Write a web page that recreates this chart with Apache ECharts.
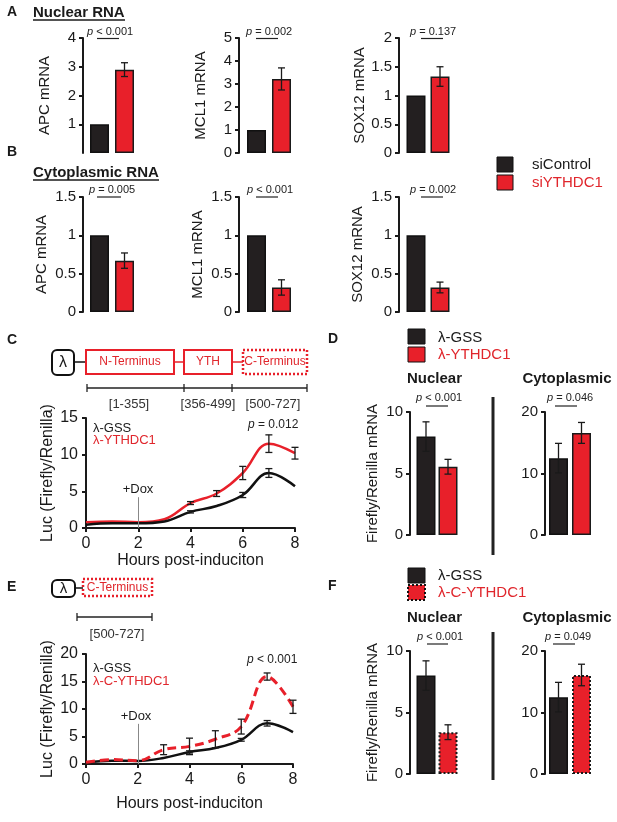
<!DOCTYPE html>
<html>
<head>
<meta charset="utf-8">
<script src="https://cdn.jsdelivr.net/npm/echarts@6/dist/echarts.min.js"></script>
<style>
  html, body { margin: 0; padding: 0; background: #fff; }
  #main { width: 617px; height: 822px; }
</style>
</head>
<body>
<div id="main"></div>
<script>
// groups in every bar panel
var barGroups = ['siControl', 'siYTHDC1'];

// A - nuclear RNA (relative mRNA), [siControl, siYTHDC1]
var nucApc = [1, 2.9],   nucApcErr = [0, 0.24];
var nucMcl1 = [1, 3.22], nucMcl1Err = [0, 0.48];
var nucSox12 = [1, 1.33], nucSox12Err = [0, 0.17];

// B - cytoplasmic RNA
var cytApc = [1, 0.67],   cytApcErr = [0, 0.1];
var cytMcl1 = [1, 0.32],  cytMcl1Err = [0, 0.1];
var cytSox12 = [1, 0.32], cytSox12Err = [0, 0.07];

// C - luciferase time course (hours post-induction)
var hours = [0, 1, 2, 3, 4, 5, 6, 7, 8];
var gssC = [0.45, 0.65, 0.65, 0.9, 2.2, 3.0, 4.5, 7.5, 5.7];
var ythC = [0.8, 0.9, 0.8, 1.2, 3.4, 4.7, 7.5, 11.5, 10.2];
var gssCErr = [[4, 0.15], [6, 0.35], [7, 0.6]];
var ythCErr = [[4, 0.2], [5, 0.4], [6, 0.9], [7, 1.2], [8, 0.8]];

// D - Firefly/Renilla mRNA, [λ-GSS, λ-YTHDC1]
var dNuc = [8.0, 5.55],  dNucErr = [1.2, 0.6];
var dCyt = [12.5, 16.6], dCytErr = [2.4, 1.7];

// E - time course with C-terminus only
var gssE = [0.3, 0.6, 0.55, 1.1, 2.2, 2.9, 4.4, 7.4, 5.8];
var cythE = [0.3, 0.8, 0.6, 2.6, 3.2, 4.5, 6.8, 15.9, 10.4];
var gssEErr = [[4, 0.2], [6, 0.25], [7, 0.5]];
var cythEErr = [[3, 0.9], [4, 1.5], [5, 1.55], [6, 1.35], [7, 0.65], [8, 1.2]];

// F - [λ-GSS, λ-C-YTHDC1]
var fNuc = [8.0, 3.4],  fNucErr = [1.2, 0.6];
var fCyt = [12.5, 16.1], fCytErr = [2.4, 1.75];

var FONT = 'Liberation Sans, Arial, sans-serif';
var BLACK = '#231f20';
var RED = '#e8202a';
var RED_TXT = '#e0262c';

var myChart = echarts.init(document.getElementById('main'));

var grids = [], xAxes = [], yAxes = [], series = [];

// error bar drawn through the axis scales
function errRender(params, api) {
    var x = api.value(0);
    var hi = api.coord([x, api.value(1)]);
    var lo = api.coord([x, api.value(2)]);
    var w = 3.5;
    var st = { stroke: '#1a1a1a', lineWidth: 1.3 };
    return {
        type: 'group',
        children: [
            { type: 'line', shape: { x1: hi[0], y1: hi[1], x2: lo[0], y2: lo[1] }, style: st },
            { type: 'line', shape: { x1: hi[0] - w, y1: hi[1], x2: hi[0] + w, y2: hi[1] }, style: st },
            { type: 'line', shape: { x1: lo[0] - w, y1: lo[1], x2: lo[0] + w, y2: lo[1] }, style: st }
        ]
    };
}

function axisStyle() {
    return {
        axisLine: { show: true, lineStyle: { color: '#1a1a1a', width: 2 } },
        axisTick: { show: true, length: 4, lineStyle: { color: '#1a1a1a', width: 2 } },
        splitLine: { show: false }
    };
}

function barPanel(box, yMax, yInt, offset, name, nameGap, vals, errs, dottedRed, hideZero) {
    var g = grids.length;
    grids.push({ left: box[0], top: box[1], width: box[2], height: box[3] });
    xAxes.push({
        gridIndex: g, type: 'category', data: barGroups,
        axisLine: { show: false }, axisTick: { show: false }, axisLabel: { show: false }
    });
    var ya = axisStyle();
    ya.gridIndex = g;
    ya.type = 'value';
    ya.min = 0; ya.max = yMax; ya.interval = yInt;
    ya.offset = offset;
    ya.name = name;
    ya.nameLocation = 'middle';
    ya.nameGap = nameGap;
    ya.nameTextStyle = { fontFamily: FONT, fontSize: 15, color: '#1a1a1a' };
    ya.axisLabel = { fontFamily: FONT, fontSize: 15, color: '#1a1a1a', margin: 7, showMinLabel: !hideZero };
    yAxes.push(ya);

    var redStyle = { color: RED, borderColor: '#1a1a1a', borderWidth: 1.5 };
    if (dottedRed) {
        redStyle = { color: RED, borderColor: '#1a1a1a', borderWidth: 2, borderType: [2, 2] };
    }
    series.push({
        type: 'bar', xAxisIndex: g, yAxisIndex: g, barWidth: 19, silent: true,
        data: [
            { value: vals[0], itemStyle: { color: BLACK, borderColor: '#111', borderWidth: 1.5 } },
            { value: vals[1], itemStyle: redStyle }
        ]
    });
    var ed = [];
    for (var i = 0; i < vals.length; i++) {
        if (errs[i] > 0) ed.push([i, vals[i] + errs[i], vals[i] - errs[i]]);
    }
    series.push({
        type: 'custom', xAxisIndex: g, yAxisIndex: g, z: 5, silent: true,
        renderItem: errRender, encode: { x: 0, y: [1, 2] }, data: ed
    });
}

function linePanel(box, yMax, xNameGap, lines, errSets) {
    var g = grids.length;
    grids.push({ left: box[0], top: box[1], width: box[2], height: box[3] });
    var xa = axisStyle();
    xa.gridIndex = g; xa.type = 'value'; xa.min = 0; xa.max = 8; xa.interval = 2;
    xa.axisLabel = { fontFamily: FONT, fontSize: 16, color: '#1a1a1a', margin: 8 };
    xa.name = 'Hours post-induciton';
    xa.nameLocation = 'middle';
    xa.nameGap = xNameGap;
    xa.nameTextStyle = { fontFamily: FONT, fontSize: 16, color: '#1a1a1a' };
    xAxes.push(xa);
    var ya = axisStyle();
    ya.gridIndex = g; ya.type = 'value'; ya.min = 0; ya.max = yMax; ya.interval = 5;
    ya.axisLabel = { fontFamily: FONT, fontSize: 16, color: '#1a1a1a', margin: 8 };
    ya.name = 'Luc (Firefly/Renilla)';
    ya.nameLocation = 'middle';
    ya.nameGap = 30;
    ya.nameTextStyle = { fontFamily: FONT, fontSize: 16, color: '#1a1a1a' };
    yAxes.push(ya);

    lines.forEach(function (ln) {
        var s = {
            type: 'line', xAxisIndex: g, yAxisIndex: g, smooth: 0.4, showSymbol: false, silent: true,
            data: hours.map(function (h, i) { return [h, ln.values[i]]; }),
            lineStyle: { color: ln.color, width: ln.width, type: ln.dash ? [9, 5] : 'solid' },
            z: ln.z
        };
        if (ln.dox) {
            s.markLine = {
                silent: true, symbol: 'none', label: { show: false },
                lineStyle: { color: '#888', width: 1, type: 'solid' },
                data: [[{ coord: [2, 0] }, { coord: [2, ln.dox] }]]
            };
        }
        series.push(s);
    });
    errSets.forEach(function (es) {
        series.push({
            type: 'custom', xAxisIndex: g, yAxisIndex: g, z: 6, silent: true,
            renderItem: errRender, encode: { x: 0, y: [1, 2] },
            data: es.err.map(function (e) {
                var v = es.values[hours.indexOf(e[0])];
                return [e[0], v + e[1], v - e[1]];
            })
        });
    });
}

// A
barPanel([87, 38, 50, 115], 4, 1, 4, 'APC mRNA', 31, nucApc, nucApcErr, false, true);
barPanel([244, 38, 50, 115], 5, 1, 5, 'MCL1 mRNA', 31, nucMcl1, nucMcl1Err, false, false);
barPanel([404, 38, 48, 115], 2, 0.5, 5, 'SOX12 mRNA', 27, nucSox12, nucSox12Err, false, false);
// B
barPanel([87, 197, 50, 115], 1.5, 0.5, 4, 'APC mRNA', 34, cytApc, cytApcErr, false, false);
barPanel([244, 197, 50, 115], 1.5, 0.5, 5, 'MCL1 mRNA', 34, cytMcl1, cytMcl1Err, false, false);
barPanel([404, 197, 48, 115], 1.5, 0.5, 5, 'SOX12 mRNA', 34, cytSox12, cytSox12Err, false, false);
// D
barPanel([415, 412, 44, 123], 10, 5, 5, 'Firefly/Renilla mRNA', 30, dNuc, dNucErr, false, false);
barPanel([547, 412, 46, 123], 20, 10, 2, '', 30, dCyt, dCytErr, false, false);
// F
barPanel([415, 651, 44, 123], 10, 5, 5, 'Firefly/Renilla mRNA', 30, fNuc, fNucErr, true, false);
barPanel([547, 651, 46, 123], 20, 10, 2, '', 30, fCyt, fCytErr, true, false);
// C
linePanel([86, 418, 209, 110], 15, 24,
    [{ values: gssC, color: '#111', width: 2.5, z: 3, dox: 4.2 },
     { values: ythC, color: RED, width: 2.5, z: 2 }],
    [{ values: gssC, err: gssCErr }, { values: ythC, err: ythCErr }]);
// E
linePanel([86, 654, 207, 110], 20, 32,
    [{ values: gssE, color: '#111', width: 2.5, z: 2, dox: 7.3 },
     { values: cythE, color: RED, width: 3, dash: true, z: 3 }],
    [{ values: gssE, err: gssEErr }, { values: cythE, err: cythEErr }]);

// ---- annotation helpers
function T(x, y, text, size, opts) {
    opts = opts || {};
    return {
        type: 'text', silent: true,
        style: {
            x: x, y: y, text: text, fontFamily: FONT, fontSize: size,
            fontWeight: opts.bold ? 'bold' : 'normal',
            fill: opts.color || '#1a1a1a',
            align: opts.align || 'left', verticalAlign: 'middle',
            rich: opts.rich
        }
    };
}
function L(x1, y1, x2, y2, w, color, dash) {
    return {
        type: 'line', silent: true,
        shape: { x1: x1, y1: y1, x2: x2, y2: y2 },
        style: { stroke: color || '#1a1a1a', lineWidth: w || 1, lineDash: dash || null }
    };
}
function R(x, y, w, h, fill, stroke, lw, r, dash) {
    return {
        type: 'rect', silent: true,
        shape: { x: x, y: y, width: w, height: h, r: r || 0 },
        style: { fill: fill || 'none', stroke: stroke || null, lineWidth: lw || 0, lineDash: dash || null }
    };
}
var pRich = { i: { fontStyle: 'italic', fontFamily: FONT, fontSize: 11, fill: '#222' } };
var pRich12 = { i: { fontStyle: 'italic', fontFamily: FONT, fontSize: 12, fill: '#222' } };
function P(x, y, text, x1, x2, ly) {
    return [
        T(x, y, '{i|p} ' + text, 11, { rich: pRich, color: '#222' }),
        L(x1, ly, x2, ly, 1.2, '#222')
    ];
}

var g = [];
// panel letters and section titles
g.push(T(7, 12.5, 'A', 14, { bold: true }));
g.push(T(33, 12.5, 'Nuclear RNA', 15, { bold: true }));
g.push(L(33, 20, 125, 20, 1.5));
g.push(T(7, 152, 'B', 14, { bold: true }));
g.push(T(33, 172.5, 'Cytoplasmic RNA', 15, { bold: true }));
g.push(L(33, 180, 159, 180, 1.5));
g.push(T(7, 340, 'C', 14, { bold: true }));
g.push(T(328, 339.5, 'D', 14, { bold: true }));
g.push(T(7, 587, 'E', 14, { bold: true }));
g.push(T(328, 586, 'F', 14, { bold: true }));

// p-values
g = g.concat(P(87, 32, '< 0.001', 97, 119, 38.5));
g = g.concat(P(246, 32, '= 0.002', 256, 278, 38.5));
g = g.concat(P(410, 32, '= 0.137', 421, 443, 38.5));
g = g.concat(P(89, 190, '= 0.005', 97, 121, 197));
g = g.concat(P(247, 190, '< 0.001', 256, 278, 197));
g = g.concat(P(410, 190, '= 0.002', 421, 443, 197));
g = g.concat(P(416, 398, '< 0.001', 426, 448, 406));
g = g.concat(P(547, 398, '= 0.046', 555, 577, 406));
g = g.concat(P(417, 637, '< 0.001', 427, 448, 644));
g = g.concat(P(545, 637, '= 0.049', 553, 575, 644));
g.push(T(248, 425, '{i|p} = 0.012', 12, { rich: pRich12, color: '#222' }));
g.push(T(247, 660, '{i|p} < 0.001', 12, { rich: pRich12, color: '#222' }));

// legend A/B
g.push(R(497, 157, 16, 15, BLACK, '#111', 1));
g.push(R(497, 175, 16, 15, RED, '#111', 1));
g.push(T(532, 164.5, 'siControl', 15));
g.push(T(532, 183, 'siYTHDC1', 15, { color: RED_TXT }));

// legend D
g.push(R(408, 329, 17, 15, BLACK, '#111', 1));
g.push(R(408, 347, 17, 15, RED, '#111', 1));
g.push(T(438, 337.5, 'λ-GSS', 15));
g.push(T(438, 355, 'λ-YTHDC1', 15, { color: RED_TXT }));
g.push(T(434.5, 379, 'Nuclear', 15, { bold: true, align: 'center' }));
g.push(T(567, 379, 'Cytoplasmic', 15, { bold: true, align: 'center' }));
g.push(L(493, 397, 493, 555, 3, '#222'));

// legend F
g.push(R(408, 568, 17, 15, BLACK, '#111', 1));
g.push(R(408, 585, 17, 15, RED, '#111', 2, 0, [2, 2]));
g.push(T(438, 575.5, 'λ-GSS', 15));
g.push(T(438, 593, 'λ-C-YTHDC1', 15, { color: RED_TXT }));
g.push(T(434.5, 618, 'Nuclear', 15, { bold: true, align: 'center' }));
g.push(T(567, 618, 'Cytoplasmic', 15, { bold: true, align: 'center' }));
g.push(L(493, 632, 493, 780, 3, '#222'));

// construct diagram C
g.push(R(52, 350, 22, 25, 'none', '#111', 2, 5));
g.push(T(63, 362.5, 'λ', 16, { align: 'center' }));
g.push(L(74, 362, 86, 362, 1.5, '#111'));
g.push(R(86, 350, 88, 24, 'none', RED, 2));
g.push(T(130, 362, 'N-Terminus', 12, { align: 'center', color: RED_TXT }));
g.push(L(174, 362, 184, 362, 1.5, RED));
g.push(R(184, 350, 48, 24, 'none', RED, 2));
g.push(T(208, 362, 'YTH', 12, { align: 'center', color: RED_TXT }));
g.push(L(232, 362, 243, 362, 1.5, RED));
g.push(R(243, 350, 64, 24, 'none', RED, 2.5, 0, [2, 2]));
g.push(T(275, 362, 'C-Terminus', 12, { align: 'center', color: RED_TXT }));
g.push(L(87, 388, 307, 388, 1.3, '#222'));
[87, 184, 232, 307].forEach(function (x) { g.push(L(x, 384, x, 392, 1.3, '#222')); });
g.push(T(129, 404, '[1-355]', 13, { align: 'center', color: '#333' }));
g.push(T(208, 404, '[356-499]', 13, { align: 'center', color: '#333' }));
g.push(T(273, 404, '[500-727]', 13, { align: 'center', color: '#333' }));

// line chart C labels
g.push(T(93, 428, 'λ-GSS', 13));
g.push(T(93, 440, 'λ-YTHDC1', 13, { color: RED_TXT }));
g.push(T(138, 489, '+Dox', 13, { align: 'center' }));

// construct diagram E
g.push(R(52, 580, 23, 17, 'none', '#111', 2, 5));
g.push(T(63.5, 588.5, 'λ', 15, { align: 'center' }));
g.push(L(75, 588, 83, 588, 1.5, '#111'));
g.push(R(83, 579, 69, 17, 'none', RED, 2.5, 0, [2, 2]));
g.push(T(117.5, 587.5, 'C-Terminus', 12, { align: 'center', color: RED_TXT }));
g.push(L(77, 617, 152, 617, 1.3, '#222'));
g.push(L(77, 613, 77, 621, 1.3, '#222'));
g.push(L(152, 613, 152, 621, 1.3, '#222'));
g.push(T(117, 634, '[500-727]', 13, { align: 'center', color: '#333' }));

// line chart E labels
g.push(T(93, 668, 'λ-GSS', 13));
g.push(T(93, 681, 'λ-C-YTHDC1', 13, { color: RED_TXT }));
g.push(T(136, 716, '+Dox', 13, { align: 'center' }));

var option = {
    animation: false,
    backgroundColor: '#fff',
    grid: grids,
    xAxis: xAxes,
    yAxis: yAxes,
    series: series,
    graphic: g
};

myChart.setOption(option);
</script>
</body>
</html>
